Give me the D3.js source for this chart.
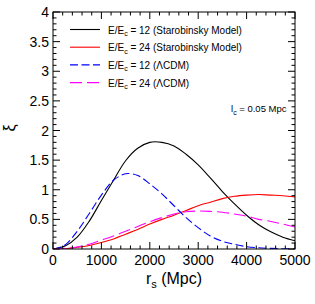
<!DOCTYPE html>
<html>
<head>
<meta charset="utf-8">
<script src="https://cdn.jsdelivr.net/npm/d3@7"></script>
<style>
  body { margin: 0; background: #fff; }
  svg { display: block; font-family: "Liberation Sans", Arial, sans-serif; }
</style>
</head>
<body>
<div id="chart"></div>
<script>
// r_s values (Mpc)
const rs = [0, 250, 500, 750, 1000, 1250, 1500, 1750, 2000, 2250, 2500,
  2750, 3000, 3250, 3500, 3750, 4000, 4250, 4500, 4750, 5000];

// xi values
const staro12 = [0, 0.05, 0.2, 0.47, 0.82, 1.16, 1.49, 1.70, 1.80, 1.80, 1.74,
  1.60, 1.42, 1.20, 0.97, 0.76, 0.57, 0.41, 0.29, 0.20, 0.14];
const staro24 = [0, 0.005, 0.03, 0.06, 0.11, 0.17, 0.25, 0.33, 0.42, 0.50, 0.57,
  0.65, 0.73, 0.79, 0.85, 0.89, 0.91, 0.92, 0.91, 0.90, 0.88];
const lcdm12 = [0, 0.07, 0.3, 0.6, 0.91, 1.16, 1.27, 1.24, 1.10, 0.93, 0.73,
  0.53, 0.36, 0.22, 0.13, 0.08, 0.04, 0.02, 0.01, 0.004, 0.002];
const lcdm24 = [0, 0.01, 0.035, 0.08, 0.15, 0.22, 0.30, 0.38, 0.46, 0.53, 0.59,
  0.63, 0.64, 0.635, 0.62, 0.59, 0.555, 0.5, 0.465, 0.42, 0.37];

const xTicks = [0, 1000, 2000, 3000, 4000, 5000];
const yTicks = [0, 0.5, 1, 1.5, 2, 2.5, 3, 3.5, 4];
const yTickLabels = ['0', '0.5', '1', '1.5', '2', '2.5', '3', '3.5', '4'];

const series = [
  { label: '12', model: '(Starobinsky Model)', values: staro12, color: '#000000', dash: null },
  { label: '24', model: '(Starobinsky Model)', values: staro24, color: '#ff0000', dash: null },
  { label: '12', model: '(\u039BCDM)', values: lcdm12, color: '#0000ff', dash: '8,3.5' },
  { label: '24', model: '(\u039BCDM)', values: lcdm24, color: '#ff00ff', dash: '12,5' }
];

const W = 315, H = 304;
const margin = { left: 53, right: 20, top: 12, bottom: 55 };
const pw = W - margin.left - margin.right;
const ph = H - margin.top - margin.bottom;

const x = d3.scaleLinear().domain([0, 5000]).range([0, pw]);
const y = d3.scaleLinear().domain([0, 4]).range([ph, 0]);

const svg = d3.select('#chart').append('svg')
  .attr('width', W)
  .attr('height', H);

const g = svg.append('g')
  .attr('transform', 'translate(' + margin.left + ',' + margin.top + ')');

g.append('clipPath').attr('id', 'clip')
  .append('rect').attr('width', pw).attr('height', ph);

// curves
const line = d3.line()
  .x((d, i) => x(rs[i]))
  .y(d => y(d))
  .curve(d3.curveCatmullRom.alpha(0.5));

series.forEach(s => {
  g.append('path')
    .attr('clip-path', 'url(#clip)')
    .attr('d', line(s.values))
    .attr('fill', 'none')
    .attr('stroke', s.color)
    .attr('stroke-width', 1.1)
    .attr('stroke-dasharray', s.dash);
});

// frame
g.append('rect')
  .attr('width', pw).attr('height', ph)
  .attr('fill', 'none').attr('stroke', '#000').attr('stroke-width', 1);

// ticks, inside, on all four sides (ROOT style)
const xMinor = d3.range(0, 5001, 200);
const yMinor = d3.range(0, 4.001, 0.1);

function tickLen(v, majors) {
  return majors.some(m => Math.abs(m - v) < 1e-6) ? 7 : 3.5;
}

xMinor.forEach(v => {
  const len = tickLen(v, xTicks);
  g.append('line').attr('x1', x(v)).attr('x2', x(v)).attr('y1', ph).attr('y2', ph - len)
    .attr('stroke', '#000').attr('stroke-width', 1);
  g.append('line').attr('x1', x(v)).attr('x2', x(v)).attr('y1', 0).attr('y2', len)
    .attr('stroke', '#000').attr('stroke-width', 1);
});
yMinor.forEach(v => {
  const len = tickLen(v, yTicks);
  g.append('line').attr('y1', y(v)).attr('y2', y(v)).attr('x1', 0).attr('x2', len)
    .attr('stroke', '#000').attr('stroke-width', 1);
  g.append('line').attr('y1', y(v)).attr('y2', y(v)).attr('x1', pw).attr('x2', pw - len)
    .attr('stroke', '#000').attr('stroke-width', 1);
});

// tick labels
g.selectAll('.xlab').data(xTicks).enter().append('text')
  .attr('x', d => x(d))
  .attr('y', ph + 16)
  .attr('text-anchor', 'middle')
  .style('font-size', '14px')
  .text(d => d);

g.selectAll('.ylab').data(yTicks).enter().append('text')
  .attr('x', -4)
  .attr('y', d => y(d) + 5)
  .attr('text-anchor', 'end')
  .style('font-size', '14px')
  .text((d, i) => yTickLabels[i]);

// axis titles
const xt = svg.append('text')
  .attr('x', margin.left + pw / 2)
  .attr('y', 284)
  .attr('text-anchor', 'middle')
  .style('font-size', '16px');
xt.append('tspan').text('r');
xt.append('tspan').attr('dy', 4).style('font-size', '11px').text('s');
xt.append('tspan').attr('dy', -4).text(' (Mpc)');

svg.append('text')
  .attr('transform', 'translate(15,128) rotate(-90)')
  .attr('text-anchor', 'middle')
  .style('font-size', '16px')
  .text('\u03BE');

// legend
const leg = g.append('g');
series.forEach((s, i) => {
  const ly = 17.5 + i * 17.7;
  leg.append('line')
    .attr('x1', 17).attr('x2', 47).attr('y1', ly).attr('y2', ly)
    .attr('stroke', s.color).attr('stroke-width', 1.1)
    .attr('stroke-dasharray', s.dash);
  const t = leg.append('text')
    .attr('x', 55).attr('y', ly + 4)
    .style('font-size', '10px');
  t.append('tspan').text('E/E');
  t.append('tspan').attr('dy', 2.5).style('font-size', '7px').text('c');
  t.append('tspan').attr('dy', -2.5).text(' = ' + s.label + ' ' + s.model);
});

// l_c annotation
const lt = g.append('text')
  .attr('x', 178).attr('y', 100)
  .style('font-size', '9.5px');
lt.append('tspan').text('l');
lt.append('tspan').attr('dy', 2.5).style('font-size', '7px').text('c');
lt.append('tspan').attr('dy', -2.5).text(' = 0.05 Mpc');
</script>
</body>
</html>
